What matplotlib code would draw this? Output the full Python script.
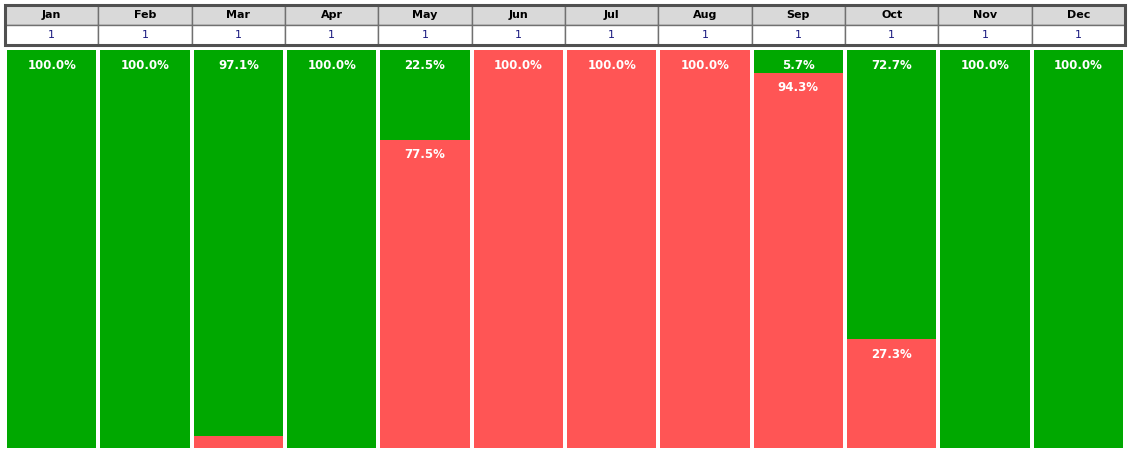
import matplotlib.pyplot as plt
from matplotlib.patches import Rectangle

months = ["Jan", "Feb", "Mar", "Apr", "May", "Jun", "Jul", "Aug", "Sep", "Oct", "Nov", "Dec"]
counts = [1, 1, 1, 1, 1, 1, 1, 1, 1, 1, 1, 1]
green_pct = [100.0, 100.0, 97.1, 100.0, 22.5, 0.0, 0.0, 0.0, 5.7, 72.7, 100.0, 100.0]
red_pct = [0.0, 0.0, 2.9, 0.0, 77.5, 100.0, 100.0, 100.0, 94.3, 27.3, 0.0, 0.0]

GREEN = "#00a800"
RED = "#ff5555"
W, H = 1130, 454

fig = plt.figure(figsize=(W / 100, H / 100), dpi=100)
plt.rcParams['font.family'] = ['DejaVu Sans']

# header table
tab = fig.add_axes([5 / W, 1 - 45 / H, 1120 / W, 40 / H])
tab.set_xlim(0, len(months))
tab.set_ylim(2, 0)
tab.axis("off")
for i, (m, c) in enumerate(zip(months, counts)):
    tab.add_patch(Rectangle((i, 0), 1, 1, facecolor="#d9d9d9", edgecolor="#707070", lw=1))
    tab.add_patch(Rectangle((i, 1), 1, 1, facecolor="white", edgecolor="#707070", lw=1))
    tab.text(i + 0.5, 0.5, m, ha="center", va="center", fontsize=8, fontweight="bold", color="black")
    tab.text(i + 0.5, 1.5, str(c), ha="center", va="center", fontsize=8, color="#1a1a80")
tab.add_patch(Rectangle((0, 0), len(months), 2, fill=False, edgecolor="#505050", lw=2.2, clip_on=False))

# stacked bars
ax = fig.add_axes([5 / W, 1 - 448 / H, 1120 / W, 398 / H])
x = list(range(len(months)))
ax.bar(x, green_pct, width=0.955, color=GREEN)
ax.bar(x, red_pct, bottom=green_pct, width=0.955, color=RED)
ax.set_xlim(-0.5, len(months) - 0.5)
ax.set_ylim(100, 0)
ax.axis("off")

for i in x:
    segs = [(0, green_pct[i]), (green_pct[i], red_pct[i])]
    for start, val in segs:
        if val >= 5:
            ax.annotate(f"{val:.1f}%", (i, start), xytext=(0, -11), textcoords="offset points",
                        ha="center", va="center", fontsize=8.5, fontweight="bold", color="white")

fig.savefig("out.png", dpi=100)
